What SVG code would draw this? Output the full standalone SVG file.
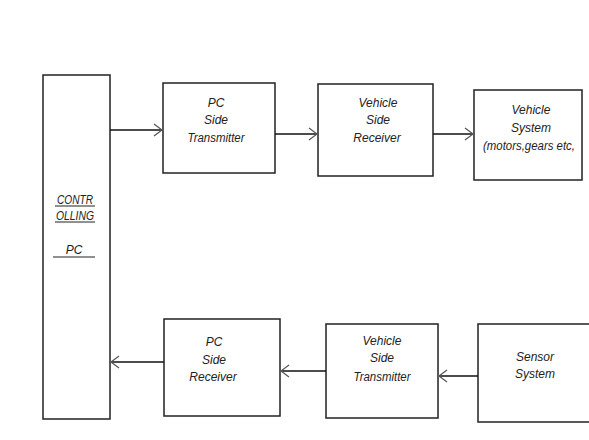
<svg xmlns="http://www.w3.org/2000/svg" width="589" height="440" viewBox="0 0 589 440">
<defs>
<marker id="arr" markerUnits="userSpaceOnUse" markerWidth="12" markerHeight="14" refX="9" refY="7" orient="auto">
<path d="M1,1 L9,7 L1,13" fill="none" stroke="#555" stroke-width="1.2"/>
</marker>
<style>
.box{fill:#fff;stroke:#222;stroke-width:1.5}
.t{font-family:"Liberation Sans",Arial,sans-serif;font-style:italic;font-size:12px;fill:#222;text-anchor:middle}
.c{stroke:#111;stroke-width:1.5;fill:none;marker-end:url(#arr)}
.u{stroke:#222;stroke-width:1.2}
</style>
</defs>
<rect width="589" height="440" fill="#fff"/>
<g id="controlling-pc">
<rect class="box" x="43" y="75" width="67" height="344"/>
<text class="t" x="75" y="204" textLength="36" lengthAdjust="spacingAndGlyphs">CONTR</text>
<line class="u" x1="55" y1="206" x2="95" y2="206"/>
<text class="t" x="75" y="220" textLength="38" lengthAdjust="spacingAndGlyphs">OLLING</text>
<line class="u" x1="55" y1="222" x2="95" y2="222"/>
<text class="t" x="74" y="254">PC</text>
<line class="u" x1="53" y1="257" x2="95" y2="257"/>
</g>
<g id="pc-side-transmitter">
<rect class="box" x="163" y="83" width="112" height="90"/>
<text class="t" x="216" y="107">PC</text>
<text class="t" x="216" y="124">Side</text>
<text class="t" x="216" y="142" textLength="57" lengthAdjust="spacingAndGlyphs">Transmitter</text>
</g>
<g id="vehicle-side-receiver">
<rect class="box" x="318" y="84" width="115" height="92"/>
<text class="t" x="378" y="107">Vehicle</text>
<text class="t" x="378" y="124">Side</text>
<text class="t" x="377" y="142">Receiver</text>
</g>
<g id="vehicle-system">
<rect class="box" x="474" y="90" width="108" height="90"/>
<text class="t" x="531" y="114">Vehicle</text>
<text class="t" x="531" y="132">System</text>
<text class="t" x="529" y="150" textLength="92" lengthAdjust="spacingAndGlyphs">(motors,gears etc,</text>
</g>
<g id="pc-side-receiver">
<rect class="box" x="164" y="319" width="116" height="97"/>
<text class="t" x="214" y="346">PC</text>
<text class="t" x="214" y="364">Side</text>
<text class="t" x="213" y="381">Receiver</text>
</g>
<g id="vehicle-side-transmitter">
<rect class="box" x="326" y="324" width="112" height="94"/>
<text class="t" x="382" y="345">Vehicle</text>
<text class="t" x="382" y="362">Side</text>
<text class="t" x="382" y="381" textLength="57" lengthAdjust="spacingAndGlyphs">Transmitter</text>
</g>
<g id="sensor-system">
<rect class="box" x="478" y="324" width="120" height="98"/>
<text class="t" x="535" y="361">Sensor</text>
<text class="t" x="535" y="378">System</text>
</g>
<g id="connectors">
<line class="c" x1="110" y1="130" x2="162" y2="130"/>
<line class="c" x1="275" y1="134" x2="317" y2="134"/>
<line class="c" x1="433" y1="134" x2="473" y2="134"/>
<line class="c" x1="164" y1="362" x2="111" y2="362"/>
<line class="c" x1="326" y1="371" x2="281" y2="371"/>
<line class="c" x1="478" y1="376" x2="439" y2="376"/>
</g>
</svg>
